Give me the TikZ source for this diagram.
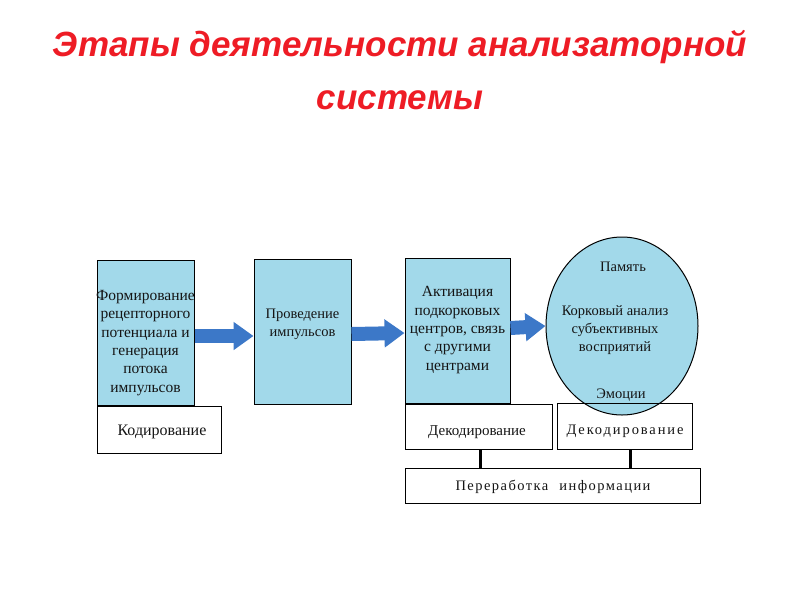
\documentclass[tikz,border=0pt]{standalone}
\usepackage{fontspec}
\setmainfont{Liberation Serif}
\newfontfamily\titlefont{Liberation Sans}
\usetikzlibrary{arrows.meta,shapes.geometric}
\definecolor{boxblue}{HTML}{A2D9EA}
\definecolor{arrowblue}{HTML}{3C78C8}
\definecolor{titlered}{HTML}{EE1C25}
\definecolor{txt}{HTML}{151515}
\tikzset{
  stagebox/.style={draw=black, line width=1pt, fill=boxblue, text=txt, align=center, inner sep=0pt},
  labelbox/.style={draw=black, line width=0.8pt, fill=white, text=txt, align=center, inner sep=0pt},
  fatarrow/.style={draw=arrowblue, line width=14pt, -{Triangle[length=20pt,width=27pt]}, arrowblue},
  link/.style={draw=black, line width=3pt},
  txtnode/.style={text=txt, align=center, inner sep=0pt, font=\fontsize{14.5}{18.3}\selectfont},
  bigtxt/.style={txtnode, font=\fontsize{15.5}{18.3}\selectfont},
  titletxt/.style={text=titlered, font=\titlefont\bfseries\itshape\fontsize{35}{40}\selectfont}
}
\begin{document}
\begin{tikzpicture}[x=1pt,y=-1pt]
\useasboundingbox (0,0) rectangle (800,600);
\fill[white] (0,0) rectangle (800,600);
% title
\node[titletxt] (t1) at (400,47) {Этапы деятельности анализаторной};
\node[titletxt] (t2) at (400,100) {системы};
% boxes
\node[stagebox, minimum width=97pt, minimum height=145pt] (b1) at (145.5,332.5) {};
\node[bigtxt] (b1t) at (145.5,343) {Формирование\\рецепторного\\потенциала и\\генерация\\потока\\импульсов};
\node[labelbox, minimum width=124pt, minimum height=47pt, anchor=north west] (kod) at (b1.south west) {};
\node[txtnode, font=\fontsize{16}{18}\selectfont] (kodt) at (162,432) {Кодирование};
\node[stagebox, minimum width=97pt, minimum height=145pt] (b2) at (302.5,331.5) {};
\node[txtnode] (b2t) at (302.5,324) {Проведение\\импульсов};
\node[stagebox, minimum width=105pt, minimum height=145pt] (b3) at (457.5,330.5) {};
\node[bigtxt] (b3t) at (457.5,330) {Активация\\подкорковых\\центров, связь\\с другими\\центрами};
\node[labelbox, minimum width=147pt, minimum height=45pt, anchor=north west] (dek1) at (b3.south west) {};
\node[txtnode, font=\fontsize{15}{18}\selectfont] (dek1t) at (477,432) {Декодирование};
% ellipse and its box
\node[draw=black, line width=1pt, fill=boxblue, ellipse, minimum width=152pt, minimum height=178pt, inner sep=0pt] (el) at (622,326) {};
\node[draw=black, line width=0.8pt, minimum width=135pt, minimum height=46pt, inner sep=0pt] (dek2) at (624.5,426) {};
\node[txtnode, font=\fontsize{14.5}{18}\selectfont\addfontfeatures{LetterSpace=13}] (dek2t) at (625,431) {Декодирование};
\node[txtnode] (mem) at (623,267) {Память};
\node[txtnode] (cort) at (615,330) {Корковый анализ\\субъективных\\восприятий};
\node[txtnode] (emo) at (621,395) {Эмоции};
% processing box
\node[labelbox, minimum width=295pt, minimum height=35pt] (proc) at (552.5,485.5) {};
\node[txtnode, font=\fontsize{14.5}{18}\selectfont\addfontfeatures{LetterSpace=10}] (proct) at (553,487) {Переработка\hspace{6pt} информации};
% arrows
\draw[fatarrow] ([yshift=-3.5pt]b1.east) -- ([yshift=-4.5pt]b2.west);
\draw[fatarrow] ([yshift=-2.5pt]b2.east) -- ([yshift=-2.5pt]b3.west);
\draw[fatarrow] ([yshift=2.5pt]b3.east) -- (el.west);
% links
\draw[link] (dek1.south -| 480,0) -- (proc.north -| 480,0);
\draw[link] (dek2.south -| 630,0) -- (proc.north -| 630,0);
\end{tikzpicture}
\end{document}
